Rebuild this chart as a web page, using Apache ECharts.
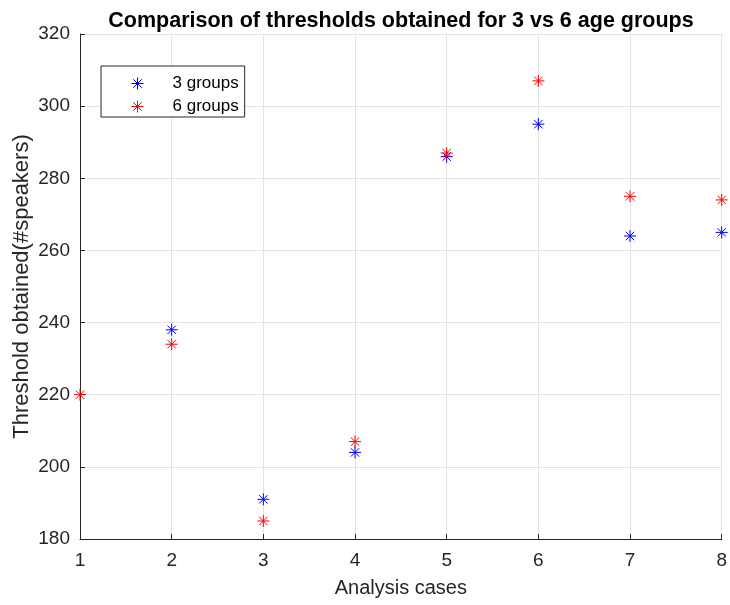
<!DOCTYPE html>
<html>
<head>
<meta charset="utf-8">
<script src="https://cdn.jsdelivr.net/npm/echarts@6/dist/echarts.min.js"></script>
<style>html,body{margin:0;padding:0;background:#fff}#c{width:730px;height:605px}</style>
</head>
<body>
<div id="c"></div>
<script>
var cases = [1, 2, 3, 4, 5, 6, 7, 8];
var groups3 = [null, 238, 191, 204, 286, 295, 264, 265];
var groups6 = [220, 234, 185, 207, 287, 307, 275, 274];
var seriesNames = ['3 groups', '6 groups'];
var titleText = 'Comparison of thresholds obtained for 3 vs 6 age groups';
var xName = 'Analysis cases';
var yName = 'Threshold obtained(#speakers)';

var star = 'path://M0,-10L0,10M-10,0L10,0M-7,-7L7,7M-7,7L7,-7';
var font = 'Liberation Sans, Arial, Helvetica, sans-serif';
var axisColor = '#262626';

function pts(vals) {
  var out = [];
  cases.forEach(function (c, i) { if (vals[i] !== null) out.push([c, vals[i]]); });
  return out;
}

var chart = echarts.init(document.getElementById('c'), null, {renderer: 'canvas'});
chart.setOption({
  animation: false,
  backgroundColor: '#fff',
  title: {
    text: titleText, left: 396, top: 5, textAlign: 'center',
    textStyle: {fontFamily: font, fontSize: 21.5, fontWeight: 'bold', color: '#000'}
  },
  legend: {
    orient: 'vertical', left: 101, top: 66,
    backgroundColor: '#fff', borderColor: axisColor, borderWidth: 1,
    padding: [9, 6, 2, 30], itemWidth: 12, itemHeight: 12, itemGap: 6,
    textStyle: {fontFamily: font, fontSize: 17, color: '#000', padding: [0, 0, 0, 24]},
    data: [
      {name: seriesNames[0], icon: star, itemStyle: {color: 'transparent', borderColor: '#0000ff', borderWidth: 1}},
      {name: seriesNames[1], icon: star, itemStyle: {color: 'transparent', borderColor: '#ff0000', borderWidth: 1}}
    ]
  },
  grid: {left: 80, right: 8, top: 34, bottom: 66, containLabel: false},
  xAxis: {
    type: 'value', min: 1, max: 8, interval: 1,
    name: xName, nameLocation: 'middle', nameGap: 39, nameMoveOverlap: false,
    nameTextStyle: {fontFamily: font, fontSize: 20, color: axisColor},
    axisLine: {show: true, onZero: false, lineStyle: {color: axisColor, width: 1}},
    axisTick: {show: true, inside: true, length: 5, lineStyle: {color: axisColor}},
    axisLabel: {fontFamily: font, fontSize: 19, color: axisColor, margin: 12},
    splitLine: {show: true, lineStyle: {color: '#e3e3e3', width: 1}}
  },
  yAxis: {
    type: 'value', min: 180, max: 320, interval: 20,
    name: yName, nameLocation: 'middle', nameGap: 47, nameRotate: 90, nameMoveOverlap: false,
    nameTextStyle: {fontFamily: font, fontSize: 22, color: axisColor},
    axisLine: {show: true, onZero: false, lineStyle: {color: axisColor, width: 1}},
    axisTick: {show: true, inside: true, length: 5, lineStyle: {color: axisColor}},
    axisLabel: {fontFamily: font, fontSize: 19, color: axisColor, margin: 10},
    splitLine: {show: true, lineStyle: {color: '#e3e3e3', width: 1}}
  },
  series: [
    {
      name: seriesNames[0], type: 'scatter', data: pts(groups3), clip: false,
      symbol: star, symbolSize: 12,
      itemStyle: {color: 'transparent', borderColor: '#0000ff', borderWidth: 1, opacity: 1}
    },
    {
      name: seriesNames[1], type: 'scatter', data: pts(groups6), clip: false,
      symbol: star, symbolSize: 12,
      itemStyle: {color: 'transparent', borderColor: '#ff0000', borderWidth: 1, opacity: 1}
    }
  ]
});
</script>
</body>
</html>
